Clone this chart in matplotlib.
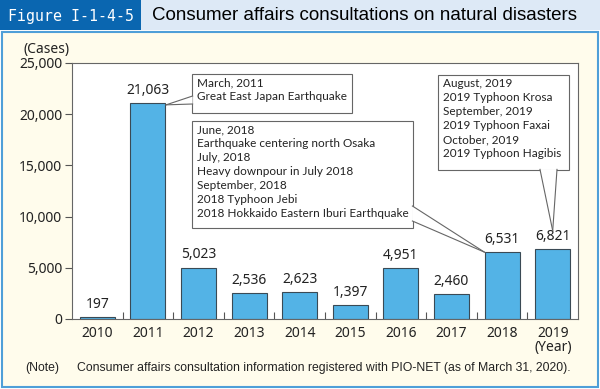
import matplotlib
matplotlib.use("Agg")
import matplotlib.pyplot as plt
from matplotlib.patches import Rectangle, Polygon
from matplotlib.lines import Line2D

# данные
years = ["2010", "2011", "2012", "2013", "2014", "2015", "2016", "2017", "2018", "2019"]
cases = [197, 21063, 5023, 2536, 2623, 1397, 4951, 2460, 6531, 6821]
y_ticks = [0, 5000, 10000, 15000, 20000, 25000]

note_2011 = "March, 2011\nGreat East Japan Earthquake"
note_2018 = ("June, 2018\nEarthquake centering north Osaka\nJuly, 2018\n"
             "Heavy downpour in July 2018\nSeptember, 2018\n2018 Typhoon Jebi\n"
             "2018 Hokkaido Eastern Iburi Earthquake")
note_2019 = ("August, 2019\n2019 Typhoon Krosa\nSeptember, 2019\n2019 Typhoon Faxai\n"
             "October, 2019\n2019 Typhoon Hagibis")

W, H = 600, 389
fig = plt.figure(figsize=(W / 100, H / 100), dpi=100)
fig.patch.set_facecolor("white")

def px(x, y):
    # пиксели сверху-слева -> доли фигуры
    return x / W, 1 - y / H

# фон: шапка и панель
fig.add_artist(Rectangle((0, 1 - 30 / H), 1, 30 / H, transform=fig.transFigure,
                         facecolor="#dde9f6", edgecolor="none", zorder=0))
fig.add_artist(Rectangle((0, 1 - 30 / H), 141 / W, 30 / H, transform=fig.transFigure,
                         facecolor="#0a66b0", edgecolor="none", zorder=0))
fig.add_artist(Rectangle((1.5 / W, 2 / H), 596 / W, 355 / H, transform=fig.transFigure,
                         facecolor="#fffcec", edgecolor="#4f9fd8", linewidth=1.5, zorder=0))
fig.text(*px(8, 16), "Figure I-1-4-5", color="white", fontsize=10.7,
         family="DejaVu Sans Mono", va="center", ha="left")
fig.text(*px(152, 16), "Consumer affairs consultations on natural disasters",
         color="black", fontsize=13.5, family="Liberation Sans", va="center", ha="left")

ax = fig.add_axes([72 / W, 1 - 319 / H, 506 / W, 256 / H])
ax.set_facecolor("white")
x = list(range(len(years)))
ax.bar(x, cases, width=0.69, color="#53b3e6", edgecolor="#3a4a55", linewidth=0.8, zorder=2)
for xi, v in zip(x, cases):
    ax.text(xi, v + 500, f"{v:,}", ha="center", va="bottom", fontsize=10,
            family="Noto Sans", color="#222222")

ax.set_xlim(-0.5, len(years) - 0.5)
ax.set_ylim(0, 25000)
ax.set_yticks(y_ticks)
ax.set_yticklabels([f"{t:,}" for t in y_ticks], family="Noto Sans", fontsize=10, color="#222222")
ax.set_xticks(x)
ax.set_xticklabels(years, family="Noto Sans", fontsize=10, color="#222222")
ax.tick_params(axis="x", length=0, pad=5)
ax.tick_params(axis="y", length=5, direction="out", color="#555555", width=0.8, pad=2)
ax.set_xticks([i + 0.5 for i in x[:-1]], minor=True)
ax.tick_params(axis="x", which="minor", length=5, direction="in", color="#555555", width=0.8)
for s in ax.spines.values():
    s.set_color("#666666")
    s.set_linewidth(0.8)

fig.text(*px(47, 49), "(Cases)", ha="center", va="center", fontsize=10,
         family="Noto Sans", color="#222222")
fig.text(*px(553, 348), "(Year)", ha="center", va="center", fontsize=10,
         family="Noto Sans", color="#222222")
fig.text(*px(25, 368), "(Note)", ha="left", va="center", fontsize=8.8,
         family="Liberation Sans", color="#222222")
fig.text(*px(77, 368), "Consumer affairs consultation information registered with PIO-NET (as of March 31, 2020).",
         ha="left", va="center", fontsize=8.8, family="Liberation Sans", color="#222222")


def data_to_px(xd, yd):
    dx, dy = ax.transData.transform((xd, yd))
    return dx, H - dy


def callout(text, box, base1, base2, tip):
    # box = (left, top, right, bottom) в пикселях, хвост к точке tip
    l, t, r, b = box
    fig.add_artist(Rectangle(px(l, b), (r - l) / W, (b - t) / H, transform=fig.transFigure,
                             facecolor="white", edgecolor="#666666", linewidth=0.8, zorder=5))
    tx, ty = tip
    poly = [px(*base1), px(tx, ty), px(*base2)]
    fig.add_artist(Polygon(poly, closed=True, transform=fig.transFigure, facecolor="white",
                           edgecolor="none", zorder=6))
    for bx, by in (base1, base2):
        fig.add_artist(Line2D([bx / W, tx / W], [1 - by / H, 1 - ty / H], transform=fig.transFigure,
                              color="#666666", linewidth=0.8, zorder=7))
    fig.text(*px(l + 5, t + 3), text, ha="left", va="top", fontsize=8.5, family="Lato",
             color="#222222", linespacing=1.34, zorder=8)


tip11 = data_to_px(1 + 0.36, cases[1] - 150)
callout(note_2011, (192, 74, 352, 113), (192.6, 96), (192.6, 104), tip11)
tip18 = data_to_px(8 - 0.35, cases[8])
callout(note_2018, (192, 121, 413, 228), (412.4, 206), (412.4, 221), tip18)
tip19 = data_to_px(9, cases[9] + 1800)
callout(note_2019, (438, 75, 569, 170), (540, 169.4), (557, 169.4), tip19)

fig.savefig("out.png", dpi=100)
